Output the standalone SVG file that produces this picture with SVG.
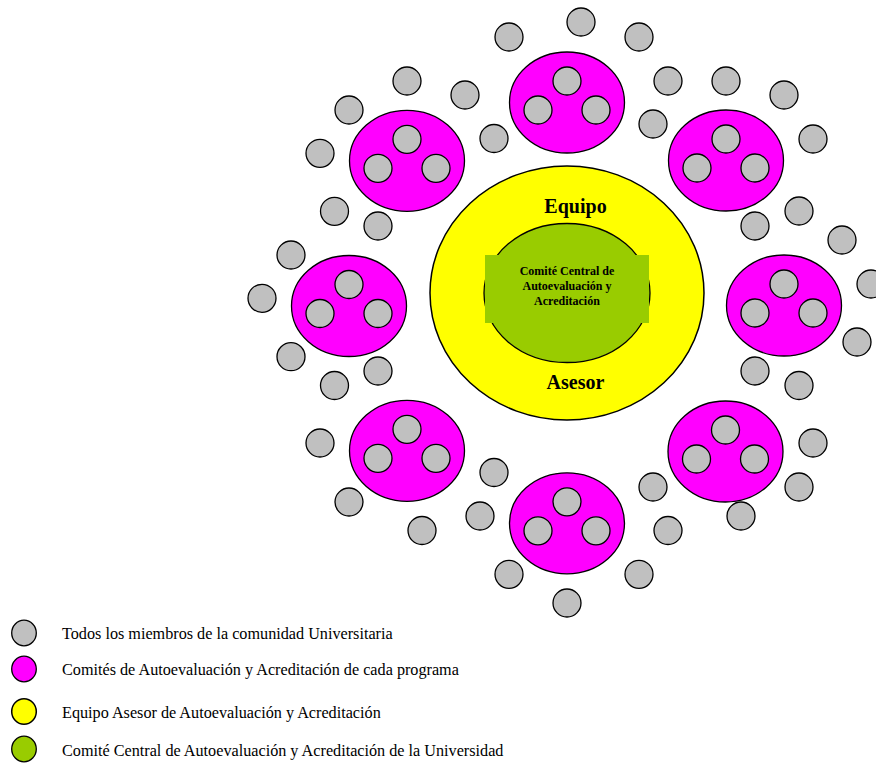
<svg xmlns="http://www.w3.org/2000/svg" width="876" height="768" viewBox="0 0 876 768">
<style>
.g{fill:#C0C0C0;stroke:#000;stroke-width:1.3}
.p{fill:#FF00FF;stroke:#000;stroke-width:1.3}
.y{fill:#FFFF00;stroke:#000;stroke-width:1.5}
.v{fill:#99CC00;stroke:#000;stroke-width:1.3}
.b{font-family:"Liberation Serif","Times New Roman",serif;font-weight:bold;text-anchor:middle;fill:#000}
.l{font-family:"Liberation Serif","Times New Roman",serif;font-size:16.2px;fill:#000}
</style>
<defs>
<g id="cluster">
<ellipse class="p" cx="0" cy="0" rx="57.5" ry="50.5"/>
<circle class="g" cx="0" cy="-21.5" r="14"/>
<circle class="g" cx="-29" cy="7.5" r="14"/>
<circle class="g" cx="29" cy="7.5" r="14"/>
</g>
</defs>
<rect width="876" height="768" fill="#fff"/>
<g id="center">
<ellipse class="y" cx="567" cy="293" rx="137" ry="127"/>
<ellipse class="v" cx="567" cy="293" rx="83" ry="69.5"/>
<rect x="485" y="255" width="164" height="68" fill="#99CC00"/>
<text class="b" x="575.5" y="213" font-size="20">Equipo</text>
<text class="b" x="575.5" y="388.5" font-size="20">Asesor</text>
<text class="b" x="567" y="275" font-size="12">Comité Central de</text>
<text class="b" x="567" y="290" font-size="12">Autoevaluación y</text>
<text class="b" x="567" y="305" font-size="12">Acreditación</text>
</g>
<g id="comites">
<use id="c-top" href="#cluster" x="567" y="102.5"/>
<use id="c-topright" href="#cluster" x="726" y="160.5"/>
<use id="c-right" href="#cluster" x="784" y="305.5"/>
<use id="c-bottomright" href="#cluster" x="725.5" y="451.5"/>
<use id="c-bottom" href="#cluster" x="567" y="523.3"/>
<use id="c-bottomleft" href="#cluster" x="407" y="450.8"/>
<use id="c-left" href="#cluster" x="349" y="306"/>
<use id="c-topleft" href="#cluster" x="407" y="160.8"/>
</g>
<g id="miembros">
<circle class="g" cx="509" cy="37" r="14"/>
<circle class="g" cx="581" cy="22" r="14"/>
<circle class="g" cx="639" cy="37" r="14"/>
<circle class="g" cx="668" cy="81" r="14"/>
<circle class="g" cx="653" cy="124" r="14"/>
<circle class="g" cx="494" cy="138.5" r="14"/>
<circle class="g" cx="726" cy="81" r="14"/>
<circle class="g" cx="784" cy="95" r="14"/>
<circle class="g" cx="813" cy="139" r="14"/>
<circle class="g" cx="799" cy="211" r="14"/>
<circle class="g" cx="755" cy="226" r="14"/>
<circle class="g" cx="842" cy="240" r="14"/>
<circle class="g" cx="871" cy="284" r="14"/>
<circle class="g" cx="857" cy="342" r="14"/>
<circle class="g" cx="799" cy="385.5" r="14"/>
<circle class="g" cx="755" cy="371" r="14"/>
<circle class="g" cx="813" cy="443" r="14"/>
<circle class="g" cx="799" cy="487" r="14"/>
<circle class="g" cx="741" cy="516" r="14"/>
<circle class="g" cx="668" cy="530.5" r="14"/>
<circle class="g" cx="653" cy="487" r="14"/>
<circle class="g" cx="494" cy="472.5" r="14"/>
<circle class="g" cx="480" cy="516" r="14"/>
<circle class="g" cx="509" cy="574.3" r="14"/>
<circle class="g" cx="567" cy="603" r="14"/>
<circle class="g" cx="639" cy="574.3" r="14"/>
<circle class="g" cx="334.5" cy="385.5" r="14"/>
<circle class="g" cx="378" cy="371" r="14"/>
<circle class="g" cx="320" cy="443" r="14"/>
<circle class="g" cx="349" cy="502" r="14"/>
<circle class="g" cx="422" cy="530.5" r="14"/>
<circle class="g" cx="291" cy="356.7" r="14"/>
<circle class="g" cx="291" cy="255" r="14"/>
<circle class="g" cx="262" cy="298.3" r="14"/>
<circle class="g" cx="378" cy="226" r="14"/>
<circle class="g" cx="407" cy="81" r="14"/>
<circle class="g" cx="465" cy="95" r="14"/>
<circle class="g" cx="349" cy="110" r="14"/>
<circle class="g" cx="320" cy="153.3" r="14"/>
<circle class="g" cx="334.5" cy="211.3" r="14"/>
</g>
<g id="legend">
<ellipse class="g" cx="24" cy="633" rx="12.3" ry="12.8"/>
<ellipse class="p" cx="24" cy="669" rx="12.3" ry="12.8"/>
<ellipse class="y" cx="24" cy="711.5" rx="12.3" ry="12.8"/>
<ellipse class="v" cx="24" cy="749" rx="12.3" ry="12.8"/>
<text class="l" x="62" y="638.5">Todos los miembros de la comunidad Universitaria</text>
<text class="l" x="62" y="675">Comités de Autoevaluación y Acreditación de cada programa</text>
<text class="l" x="62" y="718">Equipo Asesor de Autoevaluación y Acreditación</text>
<text class="l" x="62" y="756">Comité Central de Autoevaluación y Acreditación de la Universidad</text>
</g>
</svg>
